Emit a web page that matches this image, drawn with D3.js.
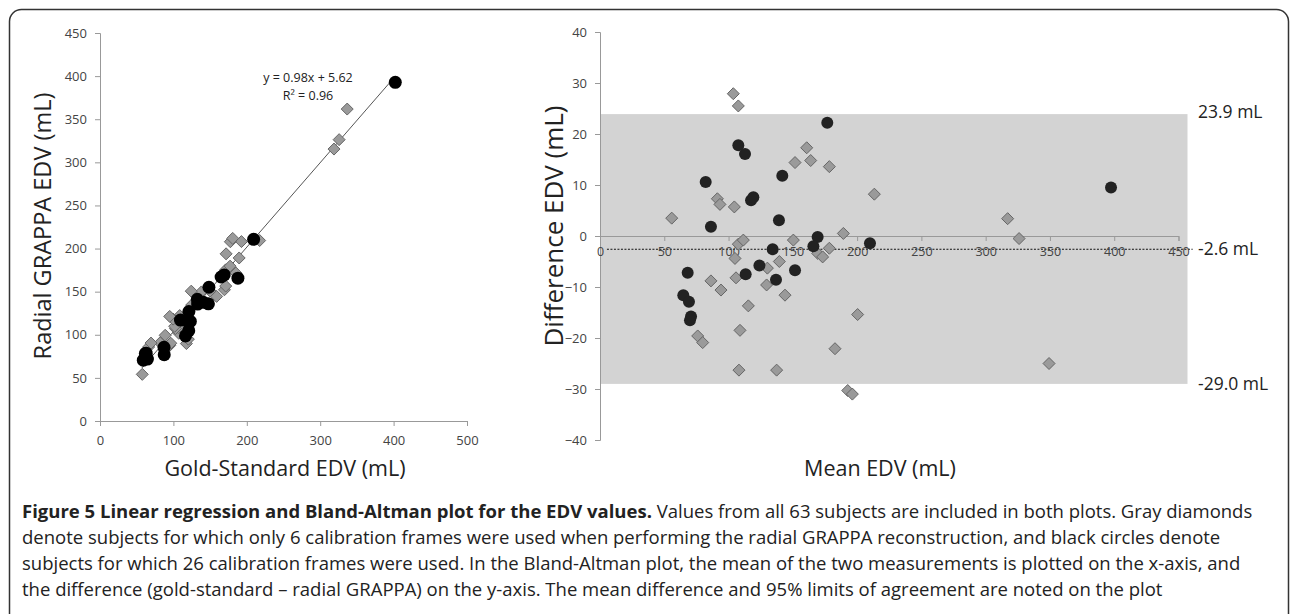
<!DOCTYPE html>
<html lang="en">
<head>
<meta charset="UTF-8">
<title>Figure 5 EDV</title>
<style>
  body { margin: 0; background: #fff; }
  svg { display: block; }
  .tick text { font-family: "Open Sans", sans-serif; fill: #444; }
  .title { font-family: "Open Sans", sans-serif; fill: #222; }
</style>
</head>
<body>
<svg width="1290" height="614"></svg>
<script src="https://d3js.org/d3.v7.min.js"></script>
<script>
// left plot: gold-standard vs radial GRAPPA, 6 calibration frames (gray diamonds)
var goldSix   = [57.6, 117.7, 120.4, 95.0, 96.4, 107.4, 158.9, 169.5, 171.3, 185.2, 217.5, 189.6, 106.8, 111.1, 102.8, 150.0, 167.6, 171.2, 177.2, 127.0, 137.0, 101.7, 81.9, 88.8, 124.8, 138.1, 108.6, 99.7, 66.2, 69.5, 95.0, 124.3, 171.8, 192.7, 177.6, 180.8, 318.8, 325.8, 336.8];
var radialSix = [54.1, 89.8, 94.9, 87.7, 90.2, 101.7, 144.5, 152.2, 156.5, 171.6, 209.3, 189.1, 108.4, 111.9, 107.2, 150.8, 171.0, 175.3, 179.6, 133.4, 142.0, 109.9, 90.7, 99.4, 134.4, 149.7, 122.3, 118.2, 85.8, 90.4, 121.3, 150.6, 193.9, 208.1, 207.9, 211.8, 315.4, 326.3, 361.8];
// 26 calibration frames (black circles)
var goldTwentySix   = [116.5, 120.9, 87.5, 121.0, 123.1, 87.2, 147.7, 140.8, 187.9, 169.2, 209.3, 165.0, 133.0, 121.1, 148.4, 109.6, 132.6, 64.6, 59.0, 62.8, 62.9, 61.8, 402.3];
var radialTwentySix = [98.7, 104.8, 76.9, 114.0, 115.5, 85.4, 135.9, 137.7, 165.7, 169.4, 210.7, 167.0, 135.6, 126.9, 155.1, 117.1, 141.2, 71.8, 70.6, 75.7, 78.7, 78.3, 392.8];

// right plot: Bland-Altman, mean vs difference
var meanSix = [55.8, 103.7, 107.6, 91.3, 93.3, 104.5, 151.7, 160.8, 163.9, 178.4, 213.4, 189.3, 107.6, 111.5, 105.0, 150.4, 169.3, 173.2, 178.4, 130.2, 139.5, 105.8, 86.3, 94.1, 129.6, 143.9, 115.4, 108.9, 76.0, 79.9, 108.1, 137.4, 182.8, 200.4, 192.7, 196.3, 317.1, 326.0, 349.3];
var diffSix = [3.5, 27.9, 25.5, 7.3, 6.2, 5.7, 14.4, 17.3, 14.8, 13.6, 8.2, 0.5, -1.6, -0.8, -4.4, -0.8, -3.4, -4.1, -2.4, -6.3, -5.0, -8.2, -8.8, -10.6, -9.6, -11.6, -13.7, -18.5, -19.6, -20.9, -26.3, -26.3, -22.1, -15.4, -30.3, -31.0, 3.4, -0.5, -25.0];
var meanTwentySix = [107.6, 112.8, 82.2, 117.5, 119.3, 86.3, 141.8, 139.2, 176.8, 169.3, 210.0, 166.0, 134.3, 124.0, 151.7, 113.3, 136.9, 68.2, 64.8, 69.2, 70.8, 70.0, 397.5];
var diffTwentySix = [17.8, 16.1, 10.6, 7.0, 7.6, 1.8, 11.8, 3.1, 22.2, -0.2, -1.4, -2.0, -2.6, -5.8, -6.7, -7.5, -8.6, -7.2, -11.6, -12.9, -15.8, -16.5, 9.5];

var meanDiff = -2.6;
var upperLimit = 23.9;
var lowerLimit = -29.0;
var limitLabels = ["23.9 mL", "-2.6 mL", "-29.0 mL"];

var slope = 0.98, intercept = 5.62;
var fitRange = [57, 402];
var fitLabels = ["y = 0.98x + 5.62", "R² = 0.96"];

var leftXTicks = [0, 100, 200, 300, 400, 500];
var leftYTicks = [0, 50, 100, 150, 200, 250, 300, 350, 400, 450];
var rightXTicks = [0, 50, 100, 150, 200, 250, 300, 350, 400, 450];
var rightYTicks = [-40, -30, -20, -10, 0, 10, 20, 30, 40];

var captionBold = "Figure 5 Linear regression and Bland-Altman plot for the EDV values.";
var captionLines = [
  "Values from all 63 subjects are included in both plots. Gray diamonds",
  "denote subjects for which only 6 calibration frames were used when performing the radial GRAPPA reconstruction, and black circles denote",
  "subjects for which 26 calibration frames were used. In the Bland-Altman plot, the mean of the two measurements is plotted on the x-axis, and",
  "the difference (gold-standard \u2013 radial GRAPPA) on the y-axis. The mean difference and 95% limits of agreement are noted on the plot"
];

var svg = d3.select("svg");

// outer frame
svg.append("rect")
  .attr("x", 9.5).attr("y", 9.5)
  .attr("width", 1279).attr("height", 640)
  .attr("rx", 12)
  .attr("fill", "none")
  .attr("stroke", "#333")
  .attr("stroke-width", 1.5);

function diamond(sel, size) {
  sel.attr("d", "M0," + (-size) + "L" + size + ",0L0," + size + "L" + (-size) + ",0Z")
    .attr("fill", "#9a9a9a")
    .attr("stroke", "#666")
    .attr("stroke-width", 1);
}

function styleAxis(g) {
  g.selectAll(".domain").attr("stroke", "#999");
  g.selectAll(".tick line").attr("stroke", "#999");
  g.selectAll(".tick text").attr("font-size", 13);
}

// ---------- left: regression ----------
var x1 = d3.scaleLinear().domain([0, 500]).range([100, 467]);
var y1 = d3.scaleLinear().domain([0, 450]).range([421, 33]);

svg.append("g")
  .attr("transform", "translate(0," + y1(0) + ")")
  .call(d3.axisBottom(x1).tickValues(leftXTicks).tickSize(5).tickPadding(10))
  .call(styleAxis);

svg.append("g")
  .attr("transform", "translate(" + x1(0) + ",0)")
  .call(d3.axisLeft(y1).tickValues(leftYTicks).tickSize(5).tickPadding(8))
  .call(styleAxis);

svg.append("line")
  .attr("x1", x1(fitRange[0])).attr("y1", y1(slope * fitRange[0] + intercept))
  .attr("x2", x1(fitRange[1])).attr("y2", y1(slope * fitRange[1] + intercept))
  .attr("stroke", "#555")
  .attr("stroke-width", 1);

svg.append("g").selectAll("path")
  .data(d3.range(goldSix.length))
  .join("path")
  .attr("transform", i => "translate(" + x1(goldSix[i]) + "," + y1(radialSix[i]) + ")")
  .call(diamond, 6);

svg.append("g").selectAll("circle")
  .data(d3.range(goldTwentySix.length))
  .join("circle")
  .attr("cx", i => x1(goldTwentySix[i]))
  .attr("cy", i => y1(radialTwentySix[i]))
  .attr("r", 6.5)
  .attr("fill", "#000");

svg.append("g").selectAll("text")
  .data(fitLabels)
  .join("text")
  .attr("class", "title")
  .attr("x", 308)
  .attr("y", (d, i) => 82 + i * 18)
  .attr("text-anchor", "middle")
  .attr("font-size", 12.5)
  .text(d => d);

svg.append("text")
  .attr("class", "title")
  .attr("x", 285).attr("y", 476)
  .attr("text-anchor", "middle")
  .attr("font-size", 21.5)
  .text("Gold-Standard EDV (mL)");

svg.append("text")
  .attr("class", "title")
  .attr("transform", "translate(51,226) rotate(-90)")
  .attr("text-anchor", "middle")
  .attr("font-size", 23.5)
  .text("Radial GRAPPA EDV (mL)");

// ---------- right: Bland-Altman ----------
var x2 = d3.scaleLinear().domain([0, 450]).range([600, 1178.5]);
var y2 = d3.scaleLinear().domain([-40, 40]).range([440, 32]);

svg.append("rect")
  .attr("x", x2(0)).attr("y", y2(upperLimit))
  .attr("width", x2(457) - x2(0))
  .attr("height", y2(lowerLimit) - y2(upperLimit))
  .attr("fill", "#d3d3d3");

svg.append("g")
  .attr("transform", "translate(" + x2(0) + ",0)")
  .call(d3.axisLeft(y2).tickValues(rightYTicks).tickSize(5).tickPadding(8))
  .call(styleAxis);

svg.append("line")
  .attr("x1", x2(5.4)).attr("x2", x2(461))
  .attr("y1", y2(meanDiff)).attr("y2", y2(meanDiff))
  .attr("stroke", "#111")
  .attr("stroke-width", 1)
  .attr("stroke-dasharray", "2,1.5");

svg.append("g")
  .attr("transform", "translate(0," + y2(0) + ")")
  .call(d3.axisBottom(x2).tickValues(rightXTicks).tickSize(5).tickPadding(6))
  .call(styleAxis)
  .call(g => g.selectAll(".tick text").attr("fill", "#666").attr("font-size", 12.5));

svg.append("g").selectAll("path")
  .data(d3.range(meanSix.length))
  .join("path")
  .attr("transform", i => "translate(" + x2(meanSix[i]) + "," + y2(diffSix[i]) + ")")
  .call(diamond, 6);

svg.append("g").selectAll("circle")
  .data(d3.range(meanTwentySix.length))
  .join("circle")
  .attr("cx", i => x2(meanTwentySix[i]))
  .attr("cy", i => y2(diffTwentySix[i]))
  .attr("r", 6)
  .attr("fill", "#222");

svg.append("g").selectAll("text")
  .data([upperLimit, meanDiff, lowerLimit])
  .join("text")
  .attr("class", "title")
  .attr("x", 1198)
  .attr("y", d => y2(d))
  .attr("dy", d => d === upperLimit ? "0.25em" : "0.35em")
  .attr("font-size", 17.5)
  .text((d, i) => limitLabels[i]);

svg.append("text")
  .attr("class", "title")
  .attr("x", 880).attr("y", 476)
  .attr("text-anchor", "middle")
  .attr("font-size", 21.5)
  .text("Mean EDV (mL)");

svg.append("text")
  .attr("class", "title")
  .attr("transform", "translate(563,226) rotate(-90)")
  .attr("text-anchor", "middle")
  .attr("font-size", 26)
  .text("Difference EDV (mL)");

// ---------- caption ----------
var cap = svg.append("g").attr("font-family", "'Open Sans', sans-serif").attr("fill", "#222").attr("font-size", 18.5);
captionLines.forEach(function(line, i) {
  var t = cap.append("text").attr("x", 22).attr("y", 518 + i * 26);
  if (i === 0) t.append("tspan").attr("font-weight", "bold").text(captionBold + " ");
  t.append("tspan").text(line);
});
</script>
</body>
</html>
